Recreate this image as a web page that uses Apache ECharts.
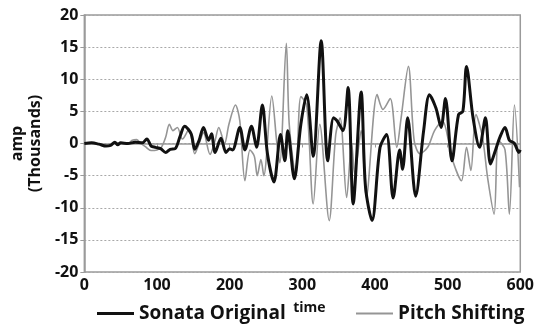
<!DOCTYPE html>
<html>
<head>
<meta charset="utf-8">
<script src="https://cdn.jsdelivr.net/npm/echarts@6/dist/echarts.min.js"></script>
<style>
  html, body { margin: 0; padding: 0; background: #fff; }
  #chart { width: 537px; height: 325px; }
</style>
</head>
<body>
<div id="chart"></div>
<script>
// time (x) and amplitude in thousands (y)
const originalTime = [0, 10, 20, 30, 36, 42, 46, 50, 60, 70, 80, 86, 92, 98, 105, 112, 118, 125, 132, 138, 147, 152, 158, 164, 171, 175, 180, 188, 195, 200, 204, 214, 221, 230, 237, 245, 252, 261, 270, 276, 280, 289, 298, 306, 315, 326, 335, 343, 348, 356, 363, 370, 381, 387, 396, 407, 416, 425, 434, 438, 445, 456, 467, 475, 484, 491, 497, 506, 515, 521, 526, 535, 544, 552, 559, 566, 572, 579, 585, 592, 598, 600];
const originalAmp = [0, 0.1, -0.1, -0.4, -0.3, 0.2, -0.2, 0.1, 0, 0.2, 0.1, 0.7, -0.4, -0.6, -0.8, -1.4, -0.9, -0.8, 1.2, 2.7, 1.5, -0.9, 0.5, 2.5, 0.5, 1.5, -1.4, 0.8, -1.4, -0.8, -1.0, 2.5, -1, 2.7, -0.6, 6, -1.6, -6, 1.4, -2.7, 2, -5.5, 3, 7.6, -2, 16, -2.7, 4, 3.5, 2, 8.7, -9.4, 8, -6.8, -12, -0.6, 1.4, -8.5, -1, -4, 4, -8.2, 2, 7.6, 5.5, 2.5, 7, -2.7, 4.5, 5, 12, 4, -0.6, 4, -3.2, -1, 1, 2.5, 0.5, 0, -1.4, -1];

const shiftedTime = [0, 10, 20, 30, 40, 50, 60, 66, 72, 78, 84, 92, 100, 106, 112, 117, 122, 128, 135, 144, 152, 158, 164, 173, 180, 185, 193, 199, 208, 214, 221, 228, 234, 238, 243, 247, 258, 265, 269, 278, 282, 291, 298, 306, 315, 324, 337, 346, 352, 361, 368, 372, 381, 388, 403, 411, 421, 430, 436, 446, 454, 462, 473, 482, 493, 502, 508, 519, 526, 532, 539, 548, 555, 564, 570, 579, 585, 592, 599];
const shiftedAmp = [0, 0, -0.1, -0.3, 0, 0.1, 0, 0.5, 0.6, 0, -0.5, -1.1, -1, -0.6, 1, 3, 2, 2.5, 0.7, 2.2, -1.6, 0, 1.7, -1.7, 0.5, 2.5, 0, 3, 6, 3.5, -5.8, -1, -2, -5, -2.5, -5, 7.4, 0, -3, 15.6, 3, -5, 7.3, 6, -9.4, 3, -12, 1.4, 4, -8.4, 0, -4.7, 2, -8.4, 7.6, 5.3, 7, -0.6, 4, 12, 0.4, -1.6, -0.5, 2, 3.5, 0, -3, -5.8, -0.6, -4.2, 4.5, 1, -5.3, -11, 0.5, -1, -11, 6, -6.8];

const xTicks = { min: 0, max: 600, step: 100 };
const yTicks = { min: -20, max: 20, step: 5 };

const pairs = (xs, ys) => xs.map((x, i) => [x, ys[i]]);

const chart = echarts.init(document.getElementById('chart'));
const font = "'Open Sans', 'Noto Sans', sans-serif";
const legendText = { fontFamily: font, fontWeight: 'bold', fontSize: 19, color: '#111' };

chart.setOption({
  backgroundColor: '#fff',
  animation: false,
  grid: {
    left: 77, right: 4, top: 15, bottom: 53,
    show: true, borderColor: '#9a9a9a', borderWidth: 1.5
  },
  legend: [
    {
      data: [{ name: 'Sonata Original', icon: 'rect' }],
      left: 97, top: 304, padding: 0,
      itemWidth: 37, itemHeight: 3, itemGap: 4,
      textStyle: legendText
    },
    {
      data: [{ name: 'Pitch Shifting', icon: 'rect' }],
      left: 356, top: 304, padding: 0,
      itemWidth: 37, itemHeight: 2, itemGap: 4,
      textStyle: legendText
    }
  ],
  xAxis: {
    type: 'value',
    min: xTicks.min, max: xTicks.max, interval: xTicks.step,
    name: 'time',
    nameLocation: 'middle',
    nameGap: 29,
    nameTextStyle: { fontFamily: font, fontWeight: 'bold', fontSize: 14, color: '#111', padding: [0, 0, 0, 14] },
    axisLine: { lineStyle: { color: '#9a9a9a', width: 1.5 } },
    axisTick: { show: true, length: 4, lineStyle: { color: '#9a9a9a' } },
    axisLabel: { fontFamily: font, fontWeight: 'bold', fontSize: 16, color: '#111', margin: 5 },
    splitLine: { show: false }
  },
  yAxis: {
    type: 'value',
    min: yTicks.min, max: yTicks.max, interval: yTicks.step,
    name: 'amp\n(Thousands)',
    nameLocation: 'middle',
    nameRotate: 90,
    nameGap: 21,
    nameTextStyle: { fontFamily: font, fontWeight: 'bold', fontSize: 16, color: '#111', lineHeight: 18, padding: [0, 0, 0, 0] },
    axisLine: { show: true, lineStyle: { color: '#9a9a9a', width: 1.5 } },
    axisTick: { show: true, length: 4, lineStyle: { color: '#9a9a9a' } },
    axisLabel: { fontFamily: font, fontWeight: 'bold', fontSize: 16, color: '#111', margin: 6 },
    splitLine: { show: true, lineStyle: { color: '#a8a8a8', type: [2, 2], width: 1 } }
  },
  series: [
    {
      name: 'Pitch Shifting',
      type: 'line',
      data: pairs(shiftedTime, shiftedAmp),
      symbol: 'none',
      smooth: 0.3,
      lineStyle: { color: '#959595', width: 1.6 },
      itemStyle: { color: '#959595' }
    },
    {
      name: 'Sonata Original',
      type: 'line',
      data: pairs(originalTime, originalAmp),
      symbol: 'none',
      smooth: 0.3,
      lineStyle: { color: '#111', width: 3 },
      itemStyle: { color: '#111' }
    }
  ]
});
</script>
</body>
</html>
